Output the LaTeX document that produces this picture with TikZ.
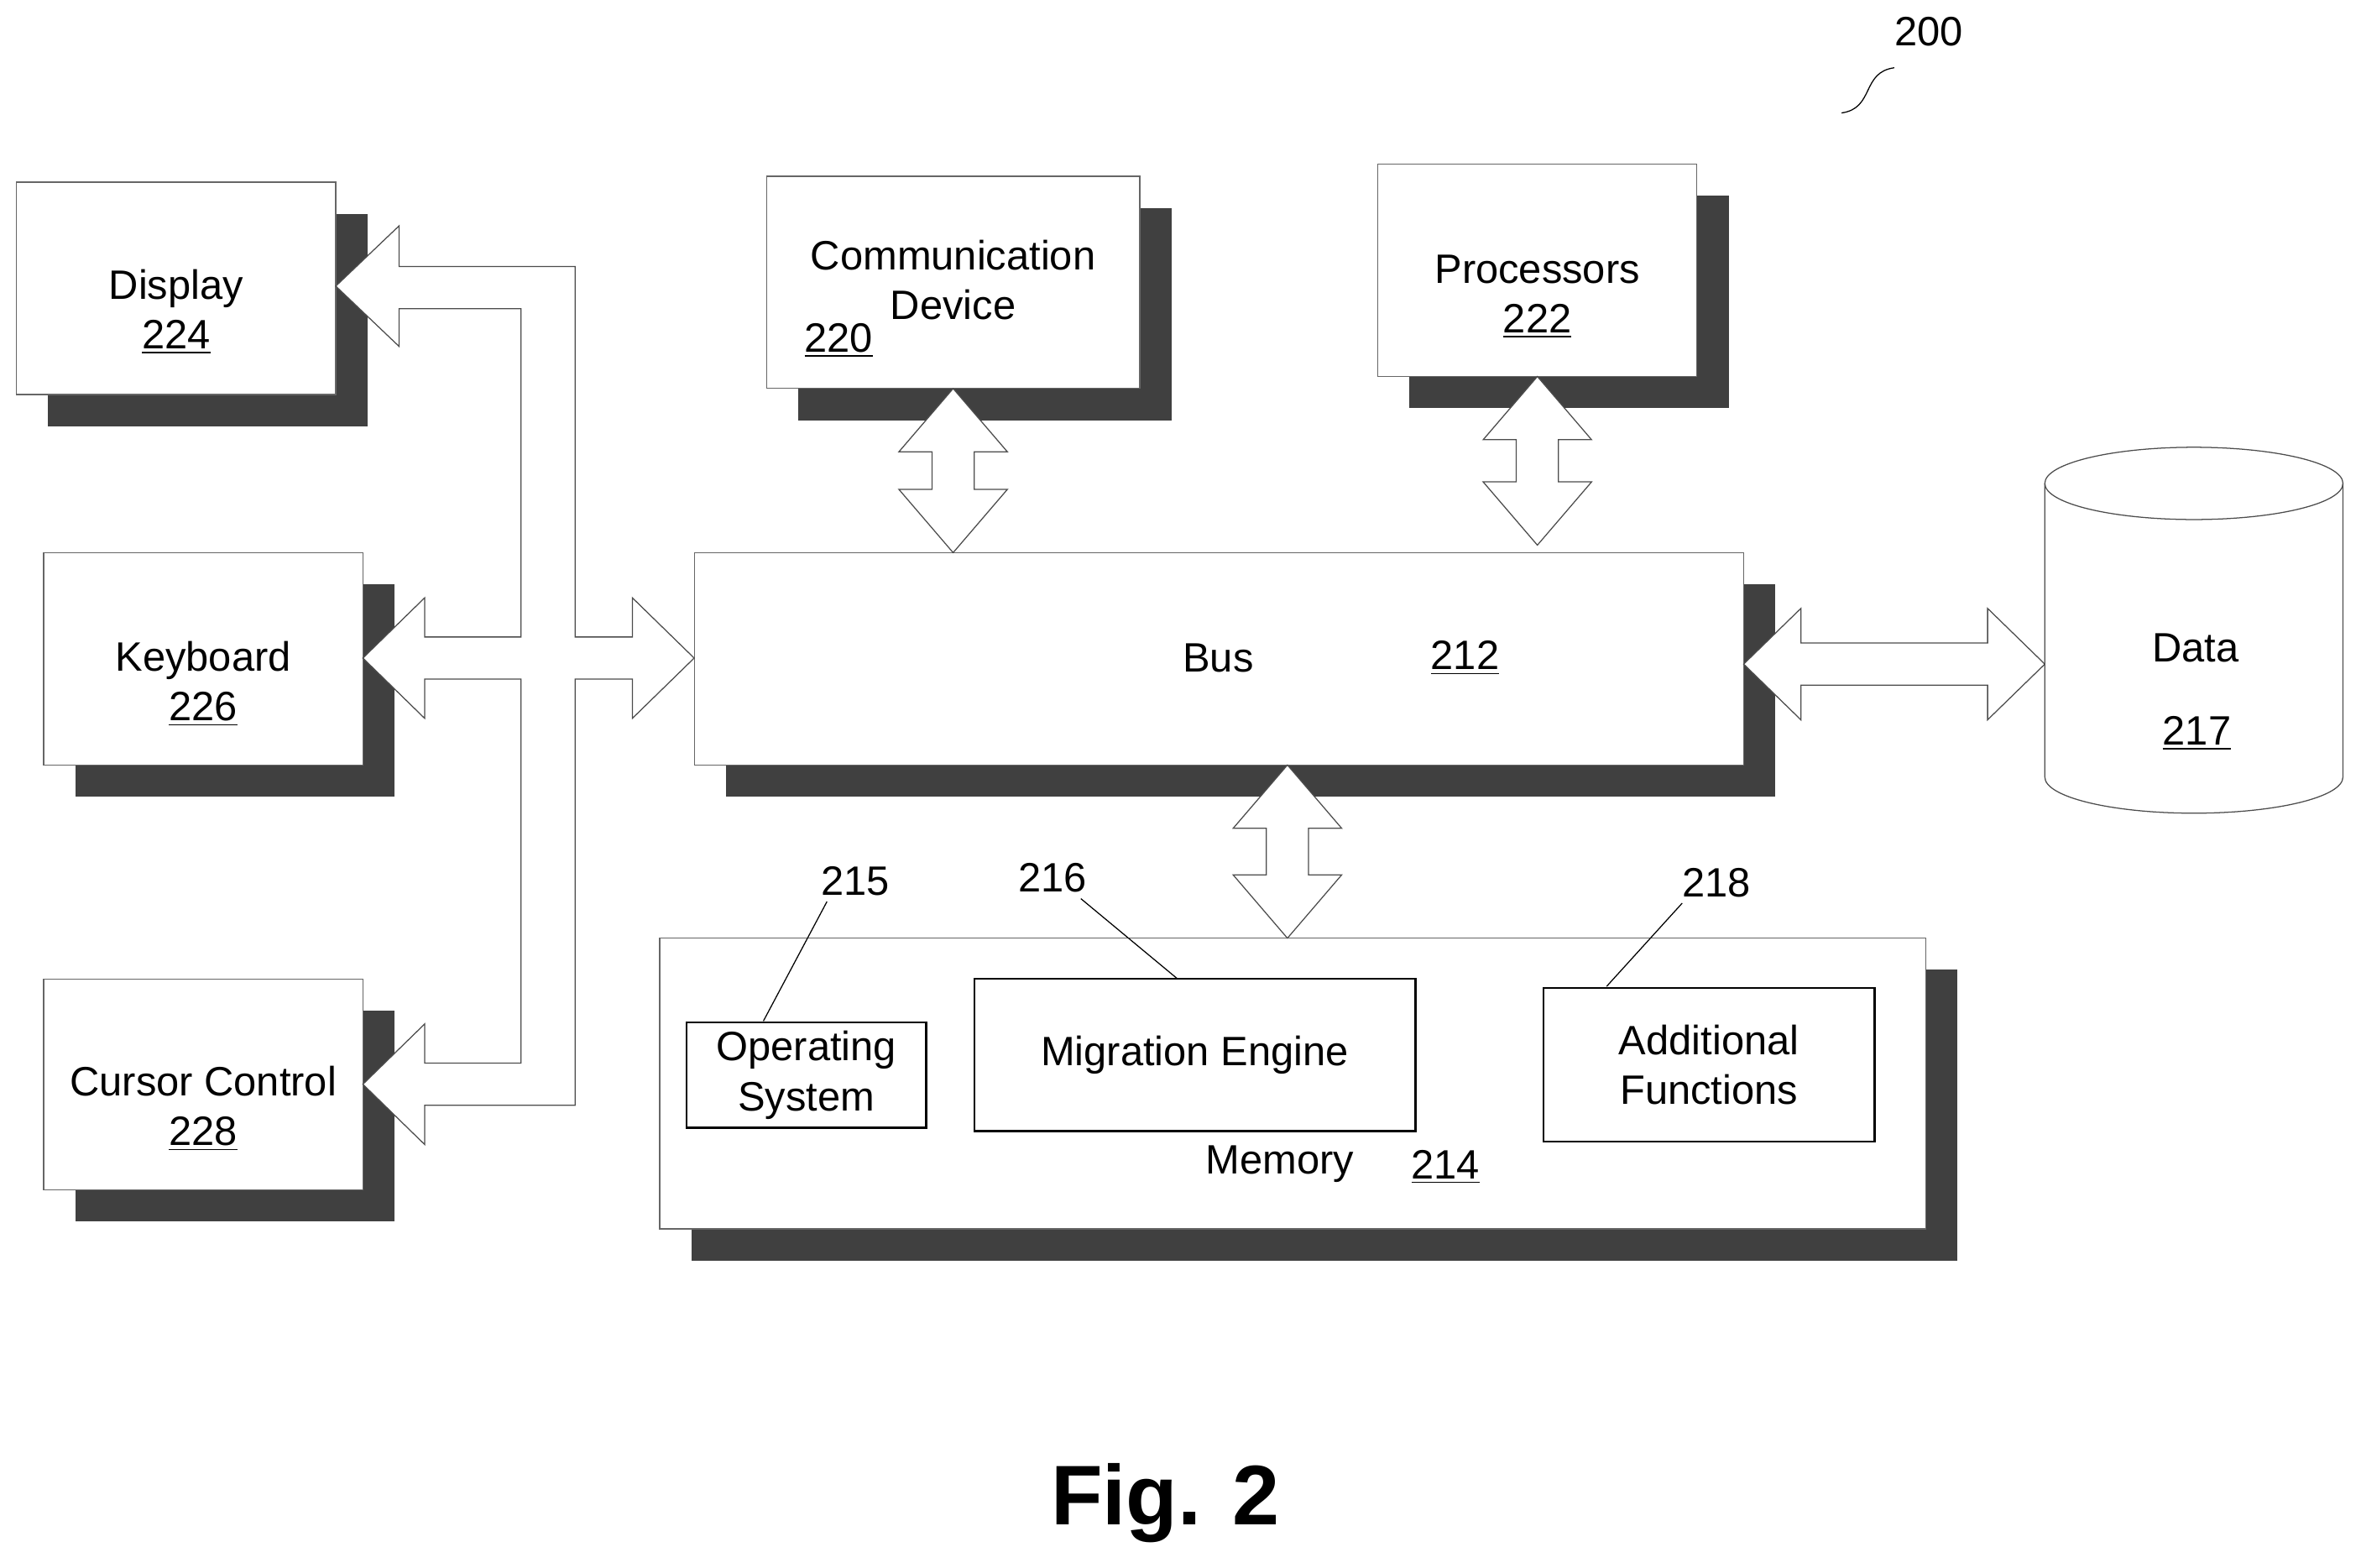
\documentclass[tikz,border=0pt]{standalone}
\usepackage{fontspec}
\setmainfont{Liberation Sans}
\usetikzlibrary{shadows}
\tikzset{
  box/.style={draw=black!60, thin, fill=white, inner sep=0pt,
    drop shadow={shadow xshift=.42cm, shadow yshift=-.42cm, fill=black!75, opacity=1}},
  inbox/.style={draw=black, thick, fill=white, inner sep=0pt, align=center},
  txt/.style={align=center, inner sep=1pt},
  fat/.style={draw=black!70, thin, fill=white, line join=miter},
  every node/.style={font=\fontsize{15.5}{18.8}\selectfont}
}
% vertical double arrow: x, ytop, ybottom
\newcommand\vdarr[3]{%
  \draw[fat] (#1,#2) -- ++(36,42) -- ++(-22,0) -- (#1+14,#3-42) -- ++(22,0) -- (#1,#3)
    -- (#1-36,#3-42) -- ++(22,0) -- (#1-14,#2+42) -- ++(-22,0) -- cycle;}
\begin{document}
\begin{tikzpicture}[x=.02cm, y=-.02cm]
\useasboundingbox (0,0) rectangle (1568,1041);
% boxes
\node[box, minimum width=4.24cm, minimum height=2.82cm] (display) at (117,191.5) {};
\node[box, minimum width=4.24cm, minimum height=2.82cm] (keyboard) at (135,437.5) {};
\node[box, minimum width=4.24cm, minimum height=2.8cm] (cursor) at (135,720) {};
\node[box, minimum width=4.96cm, minimum height=2.82cm] (comm) at (633,187.5) {};
\node[box, minimum width=4.24cm, minimum height=2.82cm] (proc) at (1021,179.5) {};
\node[box, minimum width=13.94cm, minimum height=2.82cm] (bus) at (809.5,437.5) {};
\node[box, minimum width=16.82cm, minimum height=3.86cm] (memory) at (858.5,719.5) {};
% arrows
\vdarr{633}{258}{367}
\vdarr{1021}{250}{362}
\vdarr{855}{508}{623}
\draw[fat] (1158,441) -- (1196,404) -- (1196,427) -- (1320,427) -- (1320,404) -- (1358,441)
  -- (1320,478) -- (1320,455) -- (1196,455) -- (1196,478) -- cycle;
\draw[fat] (223,190) -- (265,150) -- (265,177) -- (382,177) -- (382,423) -- (420,423)
  -- (420,397) -- (461,437) -- (420,477) -- (420,451) -- (382,451) -- (382,734)
  -- (282,734) -- (282,760) -- (241,720) -- (282,680) -- (282,706) -- (346,706)
  -- (346,451) -- (282,451) -- (282,477) -- (241,437) -- (282,397) -- (282,423)
  -- (346,423) -- (346,205) -- (265,205) -- (265,230) -- cycle;
% data store
\draw[draw=black!70, fill=white] (1358,321) -- (1358,516) arc[start angle=180, end angle=360, x radius=99, y radius=-24]
  -- (1556,321) arc[start angle=0, end angle=180, x radius=99, y radius=-24];
\draw[draw=black!70] (1358,321) arc[start angle=180, end angle=360, x radius=99, y radius=-24];
\coordinate (data) at (1457,430);
% texts
\node[txt] (displayT) at (117,207) {Display\\\underline{224}};
\node[txt] (keyboardT) at (135,454) {Keyboard\\\underline{226}};
\node[txt] (cursorT) at (135,736) {Cursor Control\\\underline{228}};
\node[txt] (commT) at (633,186) {Communication\\Device};
\node[txt] (commN) at (557,226) {\underline{220}};
\node[txt] (procT) at (1021,197) {Processors\\\underline{222}};
\node[txt] (busT) at (809,437) {Bus};
\node[txt] (busN) at (973,437) {\underline{212}};
\node[txt] (dataT) at (1458,430) {Data};
\node[txt] (dataN) at (1459,487) {\underline{217}};
\node[txt] (memT) at (850,773) {Memory};
\node[txt] (memN) at (960,775) {\underline{214}};
\node[inbox, minimum width=3.18cm, minimum height=1.4cm] (os) at (535.5,714) {Operating\\System};
\node[inbox, minimum width=5.86cm, minimum height=2.02cm] (engine) at (793.5,700.5) {Migration Engine};
\node[inbox, minimum width=4.4cm, minimum height=2.04cm] (extra) at (1135,707) {Additional\\Functions};
% reference numerals
\node[txt] (n215) at (568,585) {215};
\node[txt] (n216) at (699,583) {216};
\node[txt] (n218) at (1140,586) {218};
\node[txt] (n200) at (1281,21) {200};
\draw (n215.south west) ++(6,2) -- (507,678);
\draw (n216.south east) ++(-6,2) -- (782,650);
\draw (n218.south west) ++(2,2) -- (1067,655);
\draw (1223,75) .. controls (1245,72) and (1236,48) .. (1258,45);
\node[font=\bfseries\fontsize{32}{36}\selectfont] (fig) at (774,998) {Fig. 2};
\end{tikzpicture}
\end{document}
